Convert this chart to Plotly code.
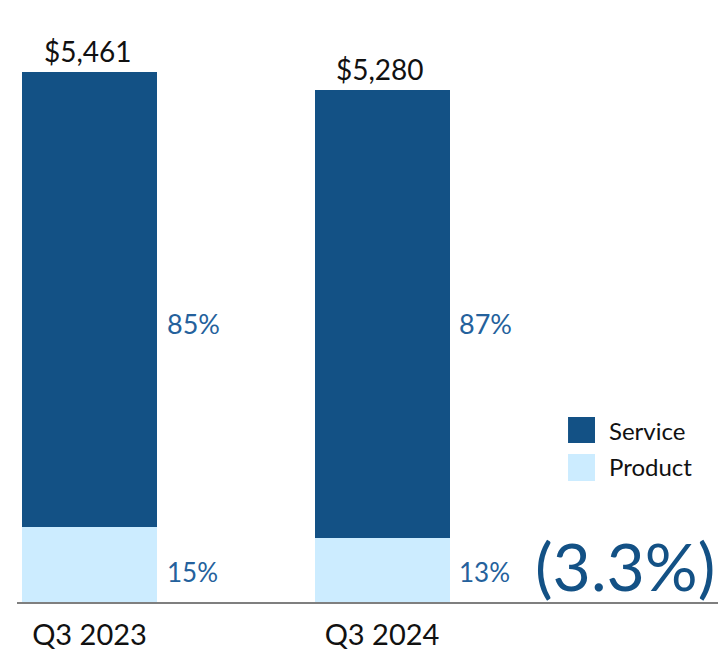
import plotly.graph_objects as go

categories = ["Q3 2023", "Q3 2024"]
totals = [5461, 5280]
service = [4686, 4620]
product = [775, 660]
service_pct = ["85%", "87%"]
product_pct = ["15%", "13%"]
total_labels = ["$5,461", "$5,280"]
change_label = "(3.3%)"

SERVICE_C = "#135185"
PRODUCT_C = "#CCECFF"
PCT_C = "#24619c"
FONT = "Lato"

xs = [0, 1]
BW = 0.4615

fig = go.Figure()
fig.add_trace(go.Bar(x=xs, y=product, width=BW, marker=dict(color=PRODUCT_C, line=dict(width=0)),
                     name="Product", showlegend=False))
fig.add_trace(go.Bar(x=xs, y=service, width=BW, marker=dict(color=SERVICE_C, line=dict(width=0)),
                     name="Service", showlegend=False))

ann = []
for i, x in enumerate(xs):
    ann.append(dict(x=x, y=totals[i], text=total_labels[i], showarrow=False, yanchor="bottom",
                    yshift=2, xshift=-2, font=dict(size=28, color="#111111", family=FONT)))
    ann.append(dict(x=x + BW / 2 + 0.027, y=2875, text=service_pct[i], showarrow=False,
                    xanchor="left", yanchor="middle", font=dict(size=27, color=PCT_C, family=FONT)))
    ann.append(dict(x=x + BW / 2 + 0.027, y=309, text=product_pct[i], showarrow=False,
                    xanchor="left", yanchor="middle", font=dict(size=26, color=PCT_C, family=FONT)))

ann.append(dict(xref="paper", yref="paper", x=0.8575, y=0.062, text=change_label, showarrow=False,
                xanchor="center", yanchor="middle", font=dict(size=66, color=SERVICE_C, family=FONT)))

shapes = [
    dict(type="rect", xref="paper", yref="paper", x0=0.7772, x1=0.8152, y0=0.2732, y1=0.3179,
         fillcolor=SERVICE_C, line=dict(width=0)),
    dict(type="rect", xref="paper", yref="paper", x0=0.7772, x1=0.8152, y0=0.2079, y1=0.2543,
         fillcolor=PRODUCT_C, line=dict(width=0)),
]
ann.append(dict(xref="paper", yref="paper", x=0.8322, y=0.2955, text="Service", showarrow=False,
                xanchor="left", yanchor="middle", font=dict(size=24, color="#111111", family=FONT)))
ann.append(dict(xref="paper", yref="paper", x=0.8322, y=0.2320, text="Product", showarrow=False,
                xanchor="left", yanchor="middle", font=dict(size=24, color="#111111", family=FONT)))

fig.update_layout(
    barmode="stack",
    width=718, height=644,
    margin=dict(l=9, r=0, t=12, b=50),
    paper_bgcolor="white", plot_bgcolor="white",
    annotations=ann, shapes=shapes,
    font=dict(family=FONT),
    xaxis=dict(range=[-0.2479, 2.176], tickvals=xs, ticktext=categories, showgrid=False, zeroline=False,
               showline=True, linecolor="#7f7f7f", linewidth=2, ticks="", ticklabelstandoff=6,
               tickfont=dict(size=29, color="#111111", family=FONT)),
    yaxis=dict(range=[0, 6000], visible=False, showgrid=False, zeroline=False),
)

fig.write_html("out.html")
